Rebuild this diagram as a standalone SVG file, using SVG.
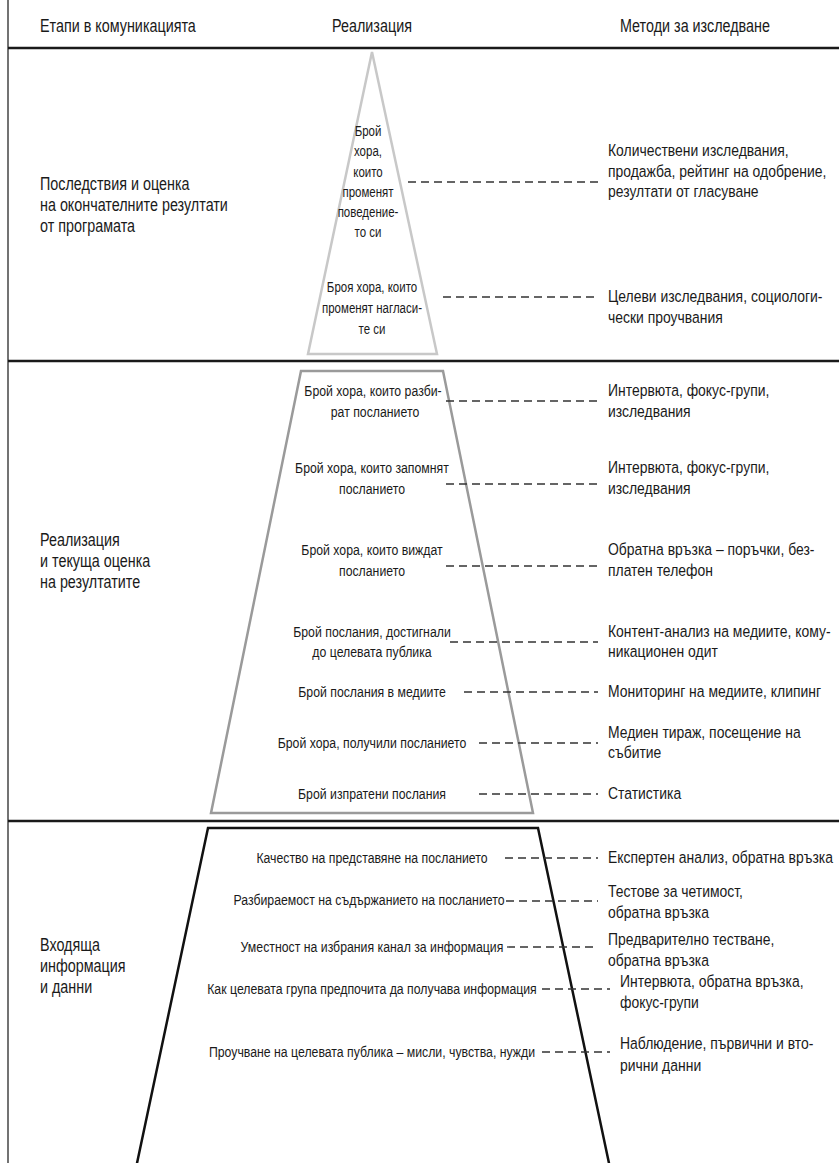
<svg xmlns="http://www.w3.org/2000/svg" width="839" height="1163" viewBox="0 0 839 1163">
<style>
text{font-family:"Liberation Sans",Arial,sans-serif;fill:#1a1a1a}
.h{font-size:17.5px}
.l{font-size:17.5px}
.r{font-size:17px}
.m{font-size:15px;text-anchor:middle}
.t{font-size:14px;text-anchor:middle}
.sep{stroke:#1a1a1a;stroke-width:2.5}
.d{stroke:#333;stroke-width:1.3;stroke-dasharray:8 5;fill:none}
</style>
<rect width="839" height="1163" fill="#fff"/>
<g id="frame">
<line x1="8" y1="0" x2="8" y2="1163" stroke="#444" stroke-width="1.5"/>
<line class="sep" x1="8" y1="48" x2="839" y2="48"/>
<line class="sep" x1="8" y1="361" x2="839" y2="361"/>
<line class="sep" x1="8" y1="821" x2="839" y2="821"/>
</g>
<g id="header" transform="scale(0.82 1)">
<text class="h" x="48.78" y="32">Етапи в комуникацията</text>
<text class="h" x="453.66" y="32" text-anchor="middle">Реализация</text>
<text class="h" x="756.10" y="32">Методи за изследване</text>
</g>
<g id="stage-labels" transform="scale(0.82 1)">
<text class="l" x="48.78" y="190">Последствия и оценка</text>
<text class="l" x="48.78" y="211">на окончателните резултати</text>
<text class="l" x="48.78" y="232">от програмата</text>
<text class="l" x="48.78" y="546">Реализация</text>
<text class="l" x="48.78" y="567">и текуща оценка</text>
<text class="l" x="48.78" y="588">на резултатите</text>
<text class="l" x="48.78" y="951">Входяща</text>
<text class="l" x="48.78" y="972">информация</text>
<text class="l" x="48.78" y="993">и данни</text>
</g>
<g id="top-pyramid">
<polygon points="372,52 437,354 308,354" fill="none" stroke="#c8c8c8" stroke-width="2.5"/>
<g transform="scale(0.82 1)">
<text class="t" x="448.78" y="136">Брой</text>
<text class="t" x="448.78" y="156">хора,</text>
<text class="t" x="448.78" y="177">които</text>
<text class="t" x="448.78" y="197">променят</text>
<text class="t" x="448.78" y="217">поведение-</text>
<text class="t" x="448.78" y="237">то си</text>
<text class="t" x="453.66" y="292">Броя хора, които</text>
<text class="t" x="453.66" y="313">променят нагласи-</text>
<text class="t" x="453.66" y="334">те си</text>
</g>
</g>
<g id="middle-trapezoid">
<polygon points="301,371 443,371 533,813 211,813" fill="none" stroke="#9a9a9a" stroke-width="2.5"/>
<g transform="scale(0.82 1)">
<text class="m" x="454.88" y="396">Брой хора, които разби-</text>
<text class="m" x="457.32" y="417">рат посланието</text>
<text class="m" x="453.66" y="473">Брой хора, които запомнят</text>
<text class="m" x="453.66" y="494">посланието</text>
<text class="m" x="453.66" y="555">Брой хора, които виждат</text>
<text class="m" x="453.66" y="576">посланието</text>
<text class="m" x="453.66" y="637">Брой послания, достигнали</text>
<text class="m" x="453.66" y="657">до целевата публика</text>
<text class="m" x="453.66" y="697">Брой послания в медиите</text>
<text class="m" x="453.66" y="748">Брой хора, получили посланието</text>
<text class="m" x="453.66" y="799">Брой изпратени послания</text>
</g>
</g>
<g id="bottom-trapezoid">
<polygon points="208,828 538,828 611.5,1175 134.5,1175" fill="none" stroke="#111" stroke-width="2.5"/>
<g transform="scale(0.82 1)">
<text class="m" x="453.66" y="863">Качество на представяне на посланието</text>
<text class="m" x="450" y="905">Разбираемост на съдържанието на посланието</text>
<text class="m" x="453.66" y="952">Уместност на избрания канал за информация</text>
<text class="m" x="453.66" y="994">Как целевата група предпочита да получава информация</text>
<text class="m" x="453.66" y="1057">Проучване на целевата публика – мисли, чувства, нужди</text>
</g>
</g>
<g id="methods" transform="scale(0.82 1)">
<text class="r" x="741.46" y="156">Количествени изследвания,</text>
<text class="r" x="741.46" y="177">продажба, рейтинг на одобрение,</text>
<text class="r" x="741.46" y="197">резултати от гласуване</text>
<text class="r" x="741.46" y="302">Целеви изследвания, социологи-</text>
<text class="r" x="741.46" y="323">чески проучвания</text>
<text class="r" x="741.46" y="396">Интервюта, фокус-групи,</text>
<text class="r" x="741.46" y="417">изследвания</text>
<text class="r" x="741.46" y="473">Интервюта, фокус-групи,</text>
<text class="r" x="741.46" y="494">изследвания</text>
<text class="r" x="741.46" y="555">Обратна връзка – поръчки, без-</text>
<text class="r" x="741.46" y="576">платен телефон</text>
<text class="r" x="741.46" y="637">Контент-анализ на медиите, кому-</text>
<text class="r" x="741.46" y="657">никационен одит</text>
<text class="r" x="741.46" y="697">Мониторинг на медиите, клипинг</text>
<text class="r" x="741.46" y="738">Медиен тираж, посещение на</text>
<text class="r" x="741.46" y="758">събитие</text>
<text class="r" x="741.46" y="799">Статистика</text>
<text class="r" x="741.46" y="863">Експертен анализ, обратна връзка</text>
<text class="r" x="741.46" y="897">Тестове за четимост,</text>
<text class="r" x="741.46" y="918">обратна връзка</text>
<text class="r" x="741.46" y="945">Предварително тестване,</text>
<text class="r" x="741.46" y="966">обратна връзка</text>
<text class="r" x="756.10" y="987">Интервюта, обратна връзка,</text>
<text class="r" x="756.10" y="1008">фокус-групи</text>
<text class="r" x="756.10" y="1049">Наблюдение, първични и вто-</text>
<text class="r" x="756.10" y="1071">рични данни</text>
</g>
<g id="connectors">
<line class="d" x1="408" y1="182" x2="600" y2="182"/>
<line class="d" x1="443" y1="297" x2="598" y2="297"/>
<line class="d" x1="446" y1="401" x2="598" y2="401"/>
<line class="d" x1="446" y1="484" x2="598" y2="484"/>
<line class="d" x1="446" y1="566" x2="598" y2="566"/>
<line class="d" x1="450" y1="642" x2="598" y2="642"/>
<line class="d" x1="464" y1="692" x2="598" y2="692"/>
<line class="d" x1="479" y1="743" x2="598" y2="743"/>
<line class="d" x1="479" y1="794" x2="598" y2="794"/>
<line class="d" x1="505" y1="858" x2="598" y2="858"/>
<line class="d" x1="506" y1="901" x2="598" y2="901"/>
<line class="d" x1="507" y1="947" x2="598" y2="947"/>
<line class="d" x1="542" y1="989" x2="610" y2="989"/>
<line class="d" x1="542" y1="1052" x2="610" y2="1052"/>
</g>
</svg>
